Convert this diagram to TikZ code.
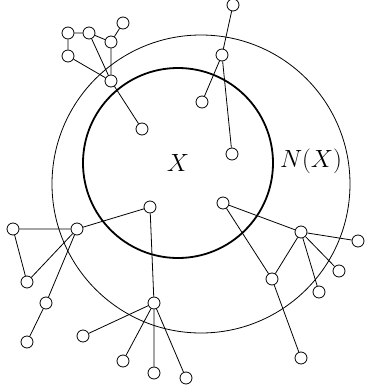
\documentclass[tikz,border=0pt]{standalone}
\begin{document}
\begin{tikzpicture}[x=1pt,y=-1pt,
  vtx/.style={circle,draw,fill=white,line width=0.8pt,minimum size=12pt,inner sep=0pt},
  edge/.style={line width=0.8pt},
  lbl/.style={font=\fontsize{25}{30}\selectfont}]
\useasboundingbox (0,0) rectangle (365,389);
\draw[line width=0.8pt] (201,184) circle (149);
\draw[line width=1.8pt] (178,163) circle (95);
\node[lbl] (X) at (178,163) {$X$};
\node[lbl] (NX) at (311,161) {$N(X)$};
% top-left
\node[vtx] (a1) at (68,33) {};
\node[vtx] (a2) at (89,33) {};
\node[vtx] (a3) at (111,42) {};
\node[vtx] (a4) at (123,23) {};
\node[vtx] (a5) at (68,56) {};
\node[vtx] (a6) at (111,81) {};
\node[vtx] (a7) at (142,129) {};
% top-right
\node[vtx] (b1) at (233,5) {};
\node[vtx] (b2) at (222,55) {};
\node[vtx] (b3) at (202,102) {};
\node[vtx] (b4) at (232,154) {};
% bottom-left
\node[vtx] (c1) at (150,207) {};
\node[vtx] (c2) at (77,229) {};
\node[vtx] (c3) at (13,229) {};
\node[vtx] (c4) at (27,282) {};
\node[vtx] (c5) at (46,303) {};
\node[vtx] (c6) at (27,342) {};
\node[vtx] (c7) at (154,303) {};
\node[vtx] (c8) at (83,336) {};
\node[vtx] (c9) at (123,361) {};
\node[vtx] (c10) at (154,373) {};
\node[vtx] (c11) at (186,378) {};
% bottom-right
\node[vtx] (d1) at (223,203) {};
\node[vtx] (d2) at (301,232) {};
\node[vtx] (d3) at (358,241) {};
\node[vtx] (d4) at (339,271) {};
\node[vtx] (d5) at (319,292) {};
\node[vtx] (d6) at (272,279) {};
\node[vtx] (d7) at (301,358) {};
\begin{scope}[on background layer/.style={}]
\end{scope}
\draw[edge] (a1)--(a2) (a1)--(a5) (a2)--(a3) (a3)--(a4) (a3)--(a6) (a2)--(a6) (a5)--(a6) (a6)--(a7);
\draw[edge] (b1)--(b2) (b2)--(b3) (b2)--(b4);
\draw[edge] (c1)--(c2) (c2)--(c3) (c3)--(c4) (c2)--(c4) (c2)--(c5) (c5)--(c6)
  (c1)--(c7) (c7)--(c8) (c7)--(c9) (c7)--(c10) (c7)--(c11);
\draw[edge] (d1)--(d2) (d1)--(d6) (d2)--(d3) (d2)--(d4) (d2)--(d5) (d2)--(d6) (d6)--(d7);
\end{tikzpicture}
\end{document}
